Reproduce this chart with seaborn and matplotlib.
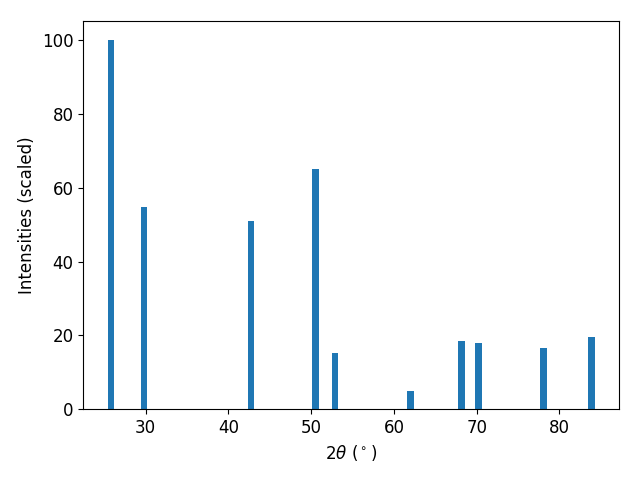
import numpy as np
import pandas as pd
import matplotlib
matplotlib.use("Agg")
import matplotlib.pyplot as plt
import seaborn as sns

# peak positions (2theta, degrees) and scaled intensities
two_theta = [25.8, 29.8, 42.75, 50.5, 52.9, 62.0, 68.2, 70.2, 78.1, 83.9]
intensity = [100.0, 54.7, 50.9, 65.0, 15.2, 5.1, 18.6, 18.1, 16.7, 19.7]

df = pd.DataFrame({"two_theta": two_theta, "intensity": intensity})

plt.rcParams["font.size"] = 12

fig, ax = plt.subplots(figsize=(6.4, 4.8), dpi=100)

# native_scale widths are relative to the smallest gap between peaks,
# so convert a bar width of 0.8 degrees into that relative unit
bar_width = 0.8 / np.diff(sorted(two_theta)).min()
sns.barplot(data=df, x="two_theta", y="intensity", native_scale=True,
            width=bar_width, color="#1f77b4", saturation=1, ax=ax)

ax.set_xlabel(r"$2\theta$ ($^\circ$)")
ax.set_ylabel("Intensities (scaled)")

fig.subplots_adjust(left=0.130, right=0.9677, top=0.956, bottom=0.147)
plt.savefig("out.png")
plt.close()
